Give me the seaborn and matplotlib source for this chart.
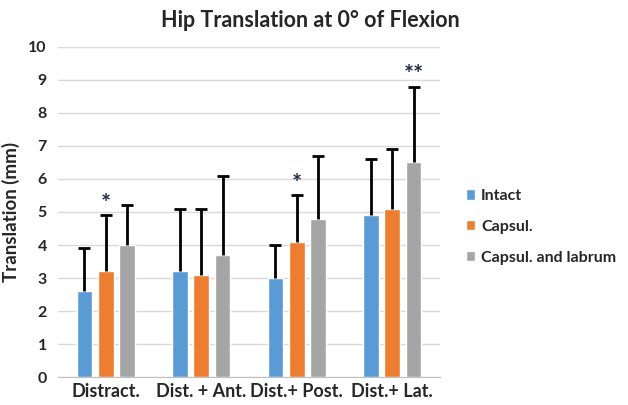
import pandas as pd
import matplotlib
matplotlib.use("Agg")
import matplotlib.pyplot as plt
import seaborn as sns

sns.set_style("white")
plt.rcParams["font.family"] = ["Lato", "DejaVu Sans"]

categories = ["Distract.", "Dist. + Ant.", "Dist.+ Post.", "Dist.+ Lat."]
conditions = ["Intact", "Capsul.", "Capsul. and labrum"]
intact = [2.6, 3.2, 3.0, 4.9]
capsul = [3.2, 3.1, 4.1, 5.1]
labrum = [4.0, 3.7, 4.8, 6.5]
intact_top = [3.9, 5.1, 4.0, 6.6]
capsul_top = [4.9, 5.1, 5.5, 6.9]
labrum_top = [5.2, 6.1, 6.7, 8.8]
# significance marks: (category index, condition index, label)
stars = [(0, 1, "*"), (2, 1, "*"), (3, 2, "**")]

colors = ["#5B9BD5", "#ED7D31", "#A5A5A5"]

rows = []
for cond, vals in zip(conditions, [intact, capsul, labrum]):
    for cat, v in zip(categories, vals):
        rows.append({"cat": cat, "cond": cond, "val": v})
df = pd.DataFrame(rows)

fig = plt.figure(figsize=(6.28, 4.05), dpi=100)
ax = fig.add_axes([0.0924, 0.0691, 0.6082, 0.8149])
sns.barplot(data=df, x="cat", y="val", hue="cond", palette=colors,
            width=0.67, gap=0.26, ax=ax, saturation=1, errorbar=None)

tops = [intact_top, capsul_top, labrum_top]
bar_x = {}
for ci, (cont, vals, top) in enumerate(zip(ax.containers, [intact, capsul, labrum], tops)):
    for gi, (bar, v, t) in enumerate(zip(cont, vals, top)):
        x = bar.get_x() + bar.get_width() / 2
        bar_x[(gi, ci)] = x
        eb = ax.errorbar(x, v, yerr=[[0], [t - v]], fmt="none", ecolor="black",
                         elinewidth=2, capsize=4, capthick=2, zorder=3)
        eb[1][0].set_visible(False)  # one-sided: hide lower cap

for gi, ci, lab in stars:
    ax.text(bar_x[(gi, ci)], tops[ci][gi] + 0.1, lab, ha="center", va="baseline",
            fontsize=17, fontweight="bold", color="#1F2A44")

ax.set_ylim(0, 10)
ax.set_xlim(-0.5, 3.5)
ax.set_yticks(range(0, 11))
ax.yaxis.grid(True, color="#D9D9D9", linewidth=1)
ax.set_axisbelow(True)
for s in ["top", "right", "left"]:
    ax.spines[s].set_visible(False)
ax.spines["bottom"].set_color("#BFBFBF")
ax.tick_params(axis="y", length=0, pad=8)
ax.tick_params(axis="x", length=0, pad=4)
for lbl in ax.get_yticklabels():
    lbl.set_fontweight("bold")
    lbl.set_fontsize(11.5)
for lbl in ax.get_xticklabels():
    lbl.set_fontweight("bold")
    lbl.set_fontsize(13)
ax.set_xlabel("")
ax.set_ylabel("Translation (mm)", fontsize=13.5, fontweight="bold", labelpad=6)

fig.text(0.495, 0.95, "Hip Translation at 0° of Flexion", ha="center", va="center",
         fontsize=15.5, fontweight="bold")

leg = ax.legend(loc="center left", bbox_to_anchor=(1.03, 0.455), frameon=False,
                fontsize=11.5, handlelength=0.6, handleheight=0.6,
                handletextpad=0.35, labelspacing=1.05)
for t in leg.get_texts():
    t.set_fontweight("bold")

fig.savefig("out.png", dpi=100)
